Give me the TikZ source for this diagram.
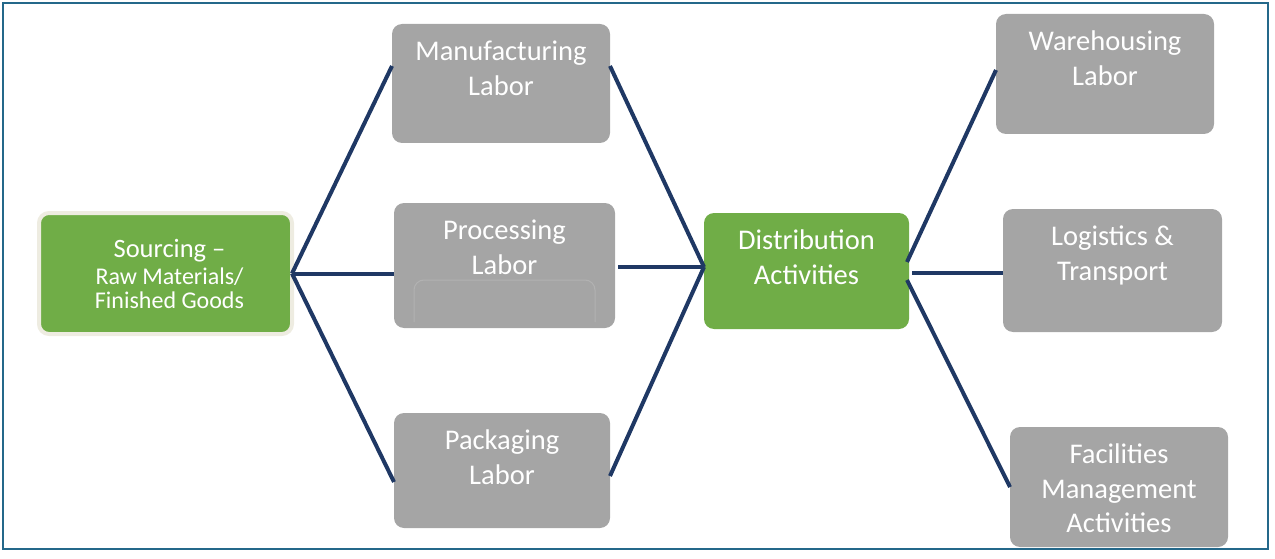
\documentclass[tikz,border=0pt]{standalone}
\usepackage{fontspec}
\setmainfont{Carlito}
\usetikzlibrary{positioning,calc}
\definecolor{boxgrey}{HTML}{A5A5A5}
\definecolor{boxgreen}{HTML}{70AD47}
\definecolor{linknavy}{HTML}{1F3864}
\definecolor{frameblue}{HTML}{24688A}
\definecolor{rimbeige}{HTML}{EEECE1}
\begin{document}
\begin{tikzpicture}[
		x=1pt, y=-1pt,
		greybox/.style={rectangle, rounded corners=10pt, fill=boxgrey, inner sep=0pt, outer sep=0pt},
		greenbox/.style={greybox, fill=boxgreen},
		boxtext/.style={text=white, align=center, inner sep=0pt, font=\fontsize{28.5}{34.5}\selectfont},
		link/.style={draw=linknavy, line width=4pt}
	]
	\useasboundingbox (0,0) rectangle (1275,559);
	\draw[frameblue, line width=2pt] (3,3) rectangle (1268,549);
	\node[greenbox, draw=rimbeige, line width=4pt, minimum width=253pt, minimum height=121pt] (src) at (165.5,273.5) {};
	\node[greybox, minimum width=218pt, minimum height=119pt] (manu) at (501,83.5) {};
	\node[greybox, minimum width=221pt, minimum height=125pt] (proc) at (504.5,265.5) {};
	\node[greybox, minimum width=216pt, minimum height=115pt] (pack) at (502,470.5) {};
	\node[greenbox, minimum width=205pt, minimum height=116pt] (dist) at (806.5,271) {};
	\node[greybox, minimum width=218pt, minimum height=120pt] (ware) at (1105,74) {};
	\node[greybox, minimum width=219pt, minimum height=123pt] (logi) at (1112.5,270.5) {};
	\node[greybox, minimum width=218pt, minimum height=120pt] (faci) at (1119,487) {};
	\draw[boxgrey!85!white, line width=1pt, rounded corners=10pt] (414,322) -- (414,280) -- (595,280) -- (595,322);
	\node[boxtext, font=\fontsize{24}{24}\selectfont, below=26pt of src.north, xshift=4pt] (srctext)
		{{\fontsize{26.5}{24}\selectfont Sourcing –}\\[3pt]Raw Materials/\\Finished Goods};
	\node[boxtext, below=17pt of manu.north] (manutext) {Manufacturing\\Labor};
	\node[boxtext, below=17pt of proc.north] (proctext) {Processing\\Labor};
	\node[boxtext, below=17pt of pack.north] (packtext) {Packaging\\Labor};
	\node[boxtext, below=17pt of dist.north] (disttext) {Distribution\\Activities};
	\node[boxtext, below=17pt of ware.north] (waretext) {Warehousing\\Labor};
	\node[boxtext, below=17pt of logi.north] (logitext) {Logistics \&\\Transport};
	\node[boxtext, below=17pt of faci.north] (facitext) {Facilities\\Management\\Activities};
	\coordinate (dleft) at ($(dist.west)+(0,4pt)$);
	\coordinate (pright) at ($(proc.east)+(3pt,0)$);
	\draw[link] (src.east) -- ($(manu.west)+(0,17.5pt)$);
	\draw[link] (src.east) -- (src.east -| proc.west);
	\draw[link] (src.east) -- ($(pack.west)+(0,-11.5pt)$);
	\draw[link] ($(manu.east)+(0,17.5pt)$) -- (dleft);
	\draw[link] (pright |- dleft) -- (dleft);
	\draw[link] ($(pack.east)+(0,-5.5pt)$) -- (dleft);
	\draw[link] ($(dist.east)+(-2pt,9pt)$) -- ($(ware.west)+(0,4pt)$);
	\draw[link] ($(dist.east)+(3pt,-2pt)$) -- ($(logi.west)+(0,-2.5pt)$);
	\draw[link] ($(dist.east)+(-2pt,-9pt)$) -- (faci.west);
\end{tikzpicture}
\end{document}
